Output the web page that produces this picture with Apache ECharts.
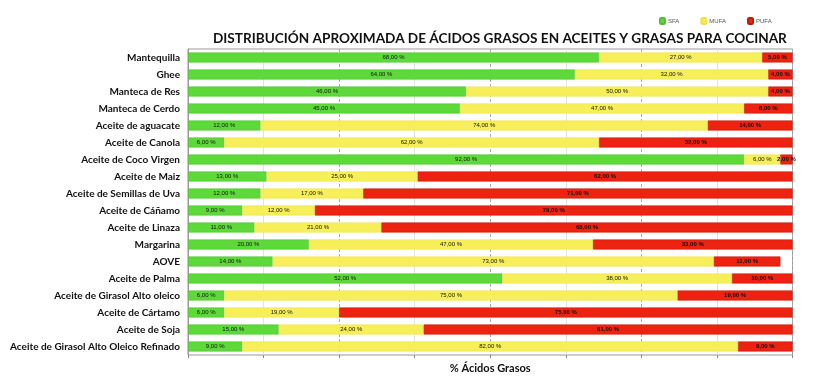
<!DOCTYPE html>
<html><head><meta charset="utf-8">
<script src="https://cdn.jsdelivr.net/npm/echarts@6/dist/echarts.min.js"></script>
<style>html,body{margin:0;padding:0;background:#fff}#c{width:820px;height:388px}</style>
</head><body><div id="c"></div>
<script>
const categories = ["Mantequilla","Ghee","Manteca de Res","Manteca de Cerdo","Aceite de aguacate","Aceite de Canola","Aceite de Coco Virgen","Aceite de Maiz","Aceite de Semillas de Uva","Aceite de Cáñamo","Aceite de Linaza","Margarina","AOVE","Aceite de Palma","Aceite de Girasol Alto oleico","Aceite de Cártamo","Aceite de Soja","Aceite de Girasol Alto Oleico Refinado"];
const sfa  = [68,64,46,45,12,6,92,13,12,9,11,20,14,52,6,6,15,9];
const mufa = [27,32,50,47,74,62,6,25,17,12,21,47,73,38,75,19,24,82];
const pufa = [5,4,4,8,14,32,2,62,71,79,68,33,11,10,19,75,61,9];
const seriesNames = ["SFA","MUFA","PUFA"];
const colors = ["#5ED93A","#F7EF5A","#EE2211"];
const borders = ["#4FC22E","#EDE24A","#C41A0A"];

const FONT = 'Lato,"Liberation Sans",sans-serif';
const fmt = p => p.value.toFixed(2).replace('.', ',') + ' %';
function mk(name, data, i){
  return {
    name, type:'bar', stack:'t', data, barWidth:10,
    itemStyle:{color:colors[i], borderColor:borders[i], borderWidth:0.6},
    label:{show:true, position:'inside', formatter:fmt, color:'#111',
      fontFamily:'"Liberation Sans",sans-serif', fontSize:6, fontWeight: i===2 ? 'bold':'normal'},
    emphasis:{disabled:true}
  };
}
const chart = echarts.init(document.getElementById('c'));
chart.setOption({
  animation:false,
  title:{text:'DISTRIBUCIÓN APROXIMADA DE ÁCIDOS GRASOS EN ACEITES Y GRASAS PARA COCINAR',
    left:208, top:27, textStyle:{fontFamily:FONT, fontWeight:'bold', fontSize:13.6, color:'#111'}},
  legend:{data:seriesNames, top:12, left:654, itemWidth:5, itemHeight:6, itemGap:21,
    textStyle:{fontSize:6, color:'#555', fontFamily:'"Liberation Sans",sans-serif', padding:[0,0,0,-2]}},
  grid:{left:188, right:27.5, top:49, bottom:33, show:true, borderColor:'#999', borderWidth:1,
    containLabel:false, outerBoundsMode:'none'},
  xAxis:{type:'value', min:0, max:100, interval:25,
    name:'% Ácidos Grasos', nameLocation:'middle', nameGap:8,
    nameTextStyle:{fontFamily:FONT, fontWeight:'bold', fontSize:11, color:'#111'},
    axisLabel:{show:false},
    axisLine:{show:false},
    axisTick:{show:true, length:3, lineStyle:{color:'#888'}},
    minorTick:{show:true, splitNumber:2, length:3, lineStyle:{color:'#888'}},
    splitLine:{show:true, lineStyle:{color:'#aaa', type:[3,2], width:1}},
    minorSplitLine:{show:true, lineStyle:{color:'#e2e2e2', width:1}}
  },
  yAxis:{type:'category', data:categories, inverse:true,
    axisLine:{show:true, lineStyle:{color:'#999'}}, axisTick:{show:false},
    axisLabel:{fontFamily:FONT, fontWeight:'bold', fontSize:10, color:'#111', margin:8}},
  series:[mk('SFA',sfa,0), mk('MUFA',mufa,1), mk('PUFA',pufa,2)]
});
</script></body></html>
